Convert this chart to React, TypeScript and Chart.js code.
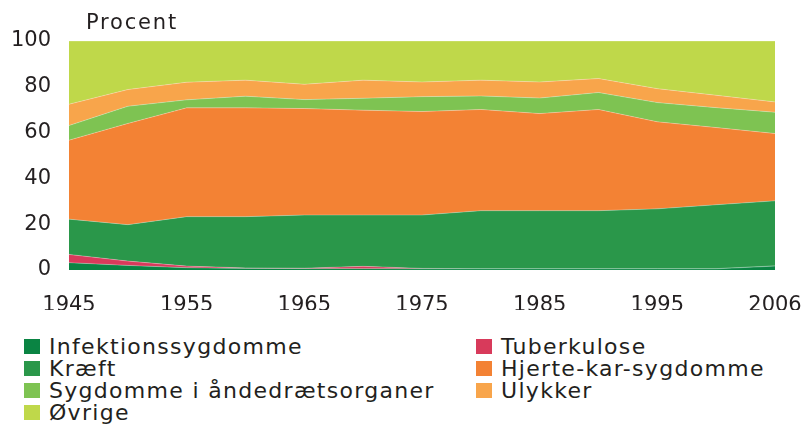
import React, { useEffect, useRef } from "react";
import { Chart, registerables } from "chart.js";

Chart.register(...registerables);

const years = ["1945", "1950", "1955", "1960", "1965", "1970", "1975", "1980", "1985", "1990", "1995", "2000", "2006"];
const infektion = [3.2, 2.0, 1.0, 0.7, 0.6, 0.6, 0.5, 0.5, 0.5, 0.5, 0.5, 0.5, 1.7];
const tuberkulose = [3.6, 1.9, 0.7, 0.2, 0.2, 1.0, 0.2, 0.1, 0.1, 0.1, 0.1, 0.1, 0.1];
const kraeft = [15.4, 15.9, 21.6, 22.4, 23.2, 22.4, 23.3, 25.3, 25.3, 25.3, 26.1, 27.9, 28.4];
const hjerte = [34.5, 44.2, 47.5, 47.5, 46.5, 45.8, 45.2, 44.2, 42.4, 44.2, 38.0, 33.7, 29.4];
const aandedraet = [6.4, 7.5, 3.5, 5.1, 3.9, 5.2, 6.5, 5.9, 6.8, 7.4, 8.4, 8.7, 9.3];
const ulykker = [9.3, 7.3, 7.7, 7.0, 6.7, 7.9, 6.4, 6.9, 7.0, 6.1, 6.1, 5.4, 4.5];
const oevrige = [27.6, 21.2, 18.0, 17.1, 18.9, 17.1, 17.9, 17.1, 17.9, 16.4, 20.8, 23.7, 26.6];

const xTickLabels = ["1945", "1955", "1965", "1975", "1985", "1995", "2006"];
const yTicks = [0, 20, 40, 60, 80, 100];

const seriesNames = [
  "Infektionssygdomme",
  "Tuberkulose",
  "Kræft",
  "Hjerte-kar-sygdomme",
  "Sygdomme i åndedrætsorganer",
  "Ulykker",
  "Øvrige",
];
const seriesData = [infektion, tuberkulose, kraeft, hjerte, aandedraet, ulykker, oevrige];
const seriesColors = ["#0a8443", "#d83a5b", "#2a974a", "#f38234", "#7ec352", "#f8a54b", "#bfd84a"];

// legend grid: [seriesIndex, column, row]
const legendLayout: [number, number, number][] = [
  [0, 0, 0],
  [1, 1, 0],
  [2, 0, 1],
  [3, 1, 1],
  [4, 0, 2],
  [5, 1, 2],
  [6, 0, 3],
];

const TEXT = "#231f20";
const FONT = "'DejaVu Sans', sans-serif";

export default function App() {
  const ref = useRef<HTMLCanvasElement | null>(null);

  useEffect(() => {
    if (!ref.current) return;
    const chart = new Chart(ref.current, {
      type: "line",
      data: {
        labels: years,
        datasets: seriesData.map((d, i) => ({
          label: seriesNames[i],
          data: d,
          backgroundColor: seriesColors[i],
          borderColor: "rgba(255,255,255,0.35)",
          borderWidth: 0.8,
          pointRadius: 0,
          tension: 0,
          fill: i === 0 ? "origin" : "-1",
        })),
      },
      options: {
        animation: false,
        responsive: false,
        devicePixelRatio: 1,
        layout: { padding: { left: 0, right: 30, top: 41, bottom: 0 } },
        plugins: {
          legend: { display: false },
          tooltip: { enabled: false },
        },
        scales: {
          x: {
            type: "category",
            offset: false,
            grid: { display: false, drawTicks: false },
            border: { display: false },
            ticks: {
              autoSkip: false,
              maxRotation: 0,
              padding: 23,
              color: TEXT,
              font: { family: FONT, size: 21 },
              callback: (_v: any, idx: number) => {
                const lab = years[idx];
                return xTickLabels.includes(lab) ? lab : "";
              },
            },
            afterFit: (s: any) => {
              s.height = 40;
              s.paddingLeft = 0;
              s.paddingRight = 0;
            },
          },
          y: {
            stacked: true,
            min: 0,
            max: 100,
            grid: { display: false, drawTicks: false },
            border: { display: false },
            afterBuildTicks: (s: any) => {
              s.ticks = yTicks.map((v) => ({ value: v }));
            },
            ticks: {
              padding: 18,
              color: TEXT,
              font: { family: FONT, size: 21 },
            },
            afterFit: (s: any) => {
              s.width = 69;
              s.paddingTop = 0;
              s.paddingBottom = 0;
            },
          },
        },
      },
      plugins: [
        {
          id: "procentLabel",
          afterDraw: (c: any) => {
            const ctx = c.ctx;
            ctx.save();
            (ctx as any).letterSpacing = "1.8px";
            ctx.font = `21px ${FONT}`;
            ctx.fillStyle = TEXT;
            ctx.textBaseline = "alphabetic";
            ctx.textAlign = "left";
            ctx.fillText("Procent", 86, 29);
            ctx.restore();
          },
        },
      ],
    });
    return () => chart.destroy();
  }, []);

  return (
    <div style={{ position: "absolute", left: 0, top: 0, width: 805, height: 426, background: "#fff", overflow: "hidden" }}>
      <canvas ref={ref} width={805} height={310} style={{ position: "absolute", left: 0, top: 0, width: 805, height: 310 }} />
      {legendLayout.map(([si, col, row]) => (
        <div
          key={si}
          style={{
            position: "absolute",
            left: col === 0 ? 24 : 476,
            top: 336 + row * 22,
            height: 22,
            lineHeight: "22px",
            fontFamily: FONT,
            fontSize: 22,
            letterSpacing: "1.3px",
            color: TEXT,
            whiteSpace: "nowrap",
            display: "flex",
            alignItems: "flex-start",
          }}
        >
          <span
            style={{
              display: "inline-block",
              width: 16,
              height: 15,
              marginTop: 3,
              background: seriesColors[si],
              marginRight: 9,
            }}
          />
          <span>{seriesNames[si]}</span>
        </div>
      ))}
    </div>
  );
}
